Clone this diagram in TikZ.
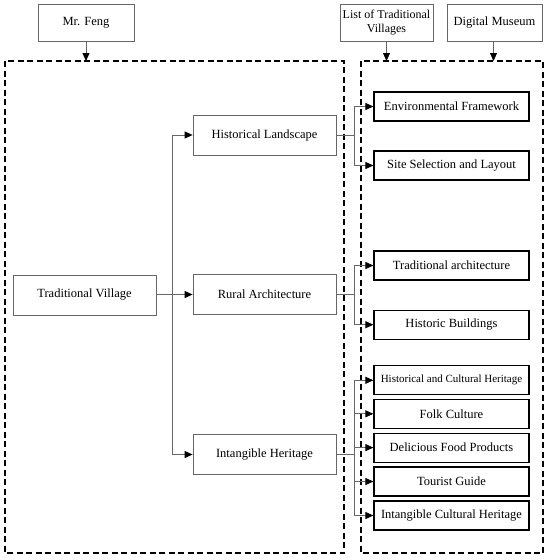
\documentclass[tikz,border=0pt]{standalone}
\usepackage{fontspec}
\setmainfont{Liberation Serif}
\usetikzlibrary{arrows.meta,positioning,calc}
\tikzset{
  gbox/.style={draw=black!60, line width=0.8pt, minimum width=#1, minimum height=37pt, inner sep=1pt, align=center, font=\fontsize{12.5}{14}\selectfont},
  gbox/.default=96pt,
  mbox/.style={draw=black!60, line width=0.8pt, minimum width=143pt, minimum height=40pt, inner sep=1pt, align=center, font=\fontsize{12.5}{14}\selectfont},
  rbox/.style={draw=black, line width=1.2pt, minimum width=155pt, minimum height=29pt, inner sep=1pt, align=center, font=\fontsize{12.5}{14}\selectfont},
  dbox/.style={draw=black, line width=1.5pt, dash pattern=on 6pt off 3.5pt},
  conn/.style={draw=black!60, line width=0.8pt},
  arr/.style={conn, -{Triangle[length=8pt,width=7pt,color=black]}},
}
\begin{document}
\begin{tikzpicture}[x=1pt,y=-1pt]
\useasboundingbox (0,0) rectangle (550,560);
% dashed frames
\draw[dbox] (5,61) rectangle (344,553);
\draw[dbox] (361,61) rectangle (543,553);
\coordinate (ftop) at (86,61);
\coordinate (ltop) at (386.5,61);
\coordinate (dtop) at (493.5,61);
% top boxes
\node[gbox=96pt] (feng) at (86,22.7) {Mr. Feng};
\node[gbox=93pt, font=\fontsize{12}{13.5}\selectfont] (list) at (386.5,22.7) {List of Traditional\\Villages};
\node[gbox=95pt] (dm) at (494.5,22.7) {Digital Museum};
\draw[arr] (feng.south) -- (ftop);
\draw[arr] (list.south) -- (ltop);
\draw[arr] (dm.south -| dtop) -- (dtop);
% middle column
\node[mbox] (tv) at (84.5,295) {Traditional Village};
\node[mbox] (hl) at (264.5,135) {Historical Landscape};
\node[mbox] (ra) at (264.5,294.5) {Rural Architecture};
\node[mbox] (ih) at (264.5,454.5) {Intangible Heritage};
\coordinate (trunk) at (172.7,294.5);
\draw[arr] (tv.east |- ra.west) -- (ra.west);
\draw[arr] (trunk) |- (hl.west);
\draw[arr] (trunk) |- (ih.west);
% right column
\node[rbox] (env) at (451.5,106.5) {Environmental Framework};
\node[rbox] (site) at (451.5,165.5) {Site Selection and Layout};
\node[rbox] (trad) at (451.5,265.5) {Traditional architecture};
\node[rbox] (hb) at (451.5,324.7) {Historic Buildings};
\node[rbox, font=\fontsize{11}{13}\selectfont] (hch) at (451.5,380.3) {Historical and Cultural Heritage};
\node[rbox] (folk) at (451.5,413.8) {Folk Culture};
\node[rbox] (food) at (451.5,447.6) {Delicious Food Products};
\node[rbox] (tg) at (451.5,481.5) {Tourist Guide};
\node[rbox] (ich) at (451.5,515.5) {Intangible Cultural Heritage};
% branches
\draw[arr] (hl.east) -- ++(18,0) |- (env.west);
\draw[arr] (hl.east) -- ++(18,0) |- (site.west);
\draw[arr] (ra.east) -- ++(18,0) |- (trad.west);
\draw[arr] (ra.east) -- ++(18,0) |- (hb.west);
\draw[arr] (ih.east) -- ++(18,0) |- (hch.west);
\draw[arr] (ih.east) -- ++(18,0) |- (folk.west);
\draw[arr] (ih.east) -- ++(18,0) |- (food.west);
\draw[arr] (ih.east) -- ++(18,0) |- (tg.west);
\draw[arr] (ih.east) -- ++(18,0) |- (ich.west);
\end{tikzpicture}
\end{document}
